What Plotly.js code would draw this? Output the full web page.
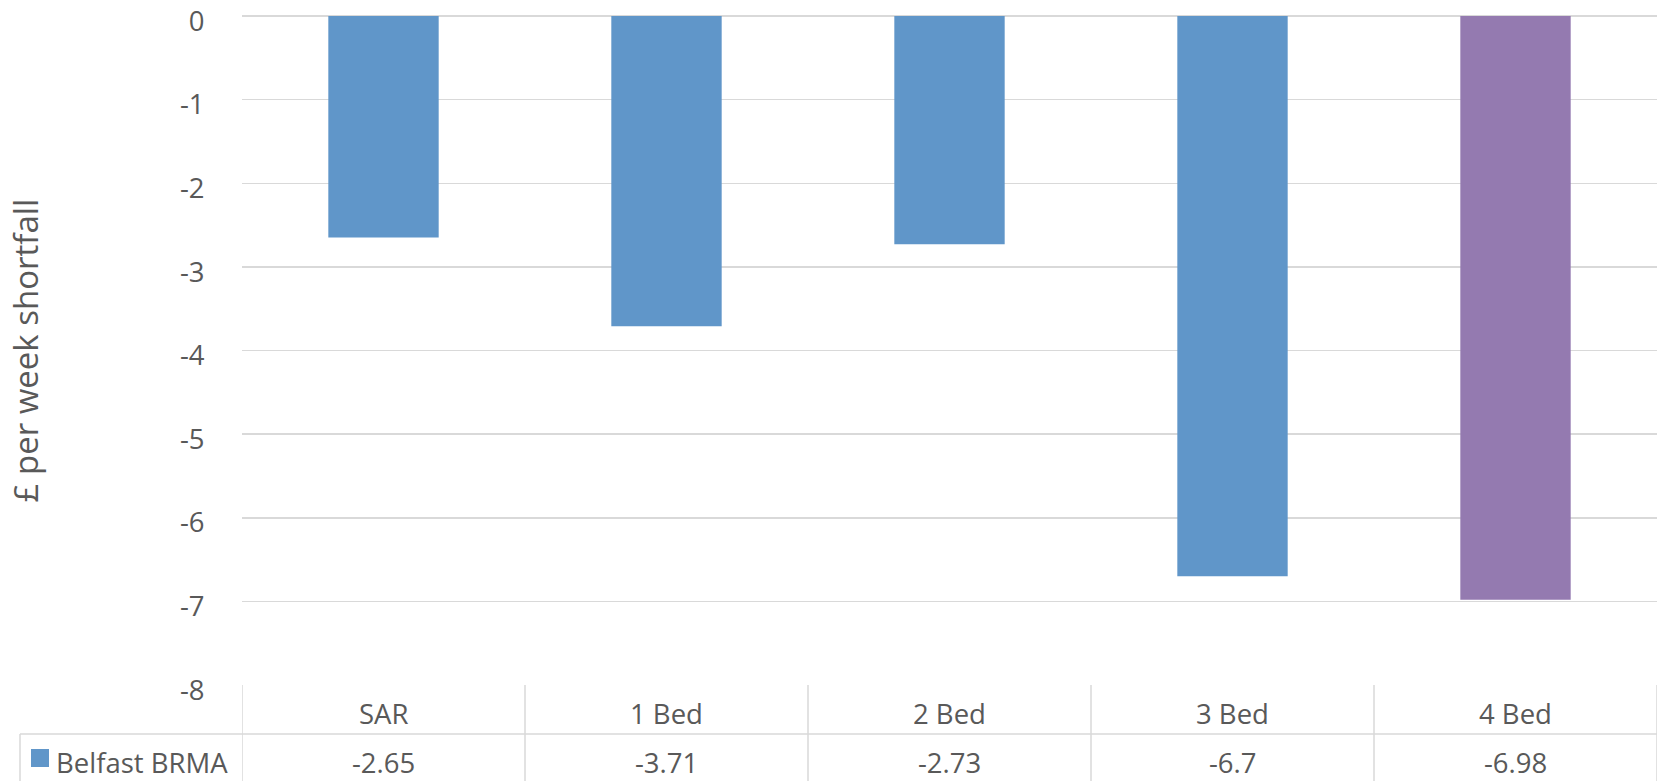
<!DOCTYPE html>
<html>
<head>
<meta charset="utf-8">
<script src="https://cdn.plot.ly/plotly-3.0.1.min.js"></script>
<style>html,body{margin:0;padding:0;background:#fff;}#chart{width:1657px;height:781px;}</style>
</head>
<body>
<div id="chart"></div>
<script>
const categories = ["SAR", "1 Bed", "2 Bed", "3 Bed", "4 Bed"];
const seriesName = "Belfast BRMA";
const values = [-2.65, -3.71, -2.73, -6.7, -6.98];
const valueLabels = ["-2.65", "-3.71", "-2.73", "-6.7", "-6.98"];
const barColors = ["#6096C9", "#6096C9", "#6096C9", "#6096C9", "#947AB0"];
const yTicks = [0, -1, -2, -3, -4, -5, -6, -7, -8];
const yTitle = "£ per week shortfall";

const FONT = "Open Sans, sans-serif";
const TXT = "#595959";
const GRID = "#D9D9D9";
const FS = 27.5;

const xs = categories.map((c, i) => i);

const trace = {
  type: "bar",
  x: xs,
  y: values,
  name: seriesName,
  marker: {color: barColors},
  hoverinfo: "x+y",
  showlegend: false
};

// plot area: x 242..1657 (1415 px), y 16..685 (669 px)
const plotW = 1415, plotL = 242;
const plotH = 669;
const pxY = py => (685 - py) / plotH;
const pxX = px => (px - plotL) / plotW;
const yRow1Bottom = pxY(734);
const yBottom = pxY(781);
const yHeaderMid = pxY(713);
const yRowMid = pxY(762);

const shapes = [];
const lineStyle = {color: GRID, width: 1.5};
shapes.push({type: "line", xref: "paper", yref: "paper", x0: pxX(20), x1: 1, y0: yRow1Bottom, y1: yRow1Bottom, line: lineStyle});
shapes.push({type: "line", xref: "paper", yref: "paper", x0: pxX(20), x1: pxX(20), y0: yRow1Bottom, y1: yBottom, line: lineStyle});
for (let i = 0; i <= categories.length; i++) {
  shapes.push({type: "line", xref: "x", yref: "paper", x0: i - 0.5, x1: i - 0.5, y0: 0, y1: yBottom, line: lineStyle});
}
shapes.push({type: "rect", xref: "paper", yref: "paper", x0: pxX(31), x1: pxX(49), y0: pxY(767), y1: pxY(749), fillcolor: "#6096C9", line: {width: 0}});

const annotations = [];
categories.forEach((c, i) => {
  annotations.push({xref: "x", yref: "paper", x: xs[i], y: yHeaderMid, text: c, showarrow: false, xanchor: "center", yanchor: "middle", font: {family: FONT, size: FS, color: TXT}});
  annotations.push({xref: "x", yref: "paper", x: xs[i], y: yRowMid, text: valueLabels[i], showarrow: false, xanchor: "center", yanchor: "middle", font: {family: FONT, size: FS, color: TXT}});
});
annotations.push({xref: "paper", yref: "paper", x: pxX(54), y: yRowMid, text: seriesName, showarrow: false, xanchor: "left", yanchor: "middle", font: {family: FONT, size: FS, color: TXT}});
annotations.push({xref: "paper", yref: "paper", x: pxX(25), y: 0.5, text: yTitle, textangle: -90, showarrow: false, xanchor: "center", yanchor: "middle", font: {family: FONT, size: 33, color: TXT}});

const layout = {
  width: 1657,
  height: 781,
  margin: {l: 242, r: 0, t: 16, b: 96, pad: 0},
  paper_bgcolor: "#fff",
  plot_bgcolor: "#fff",
  bargap: 0.61,
  showlegend: false,
  xaxis: {
    range: [-0.5, 4.5],
    showticklabels: false,
    showgrid: false,
    zeroline: false,
    showline: false,
    ticks: "",
    fixedrange: true
  },
  yaxis: {
    range: [-8, 0],
    tickvals: yTicks,
    ticktext: yTicks.map(String),
    showgrid: true,
    gridcolor: GRID,
    gridwidth: 1.5,
    zeroline: true,
    zerolinecolor: GRID,
    zerolinewidth: 1.5,
    showline: false,
    ticks: "outside",
    ticklen: 31,
    tickcolor: "rgba(0,0,0,0)",
    ticklabeloverflow: "allow",
    ticklabelshift: 5,
    tickfont: {family: FONT, size: FS, color: TXT},
    automargin: false
  },
  shapes: shapes,
  annotations: annotations
};

Plotly.newPlot("chart", [trace], layout, {displayModeBar: false, staticPlot: true});
</script>
</body>
</html>
